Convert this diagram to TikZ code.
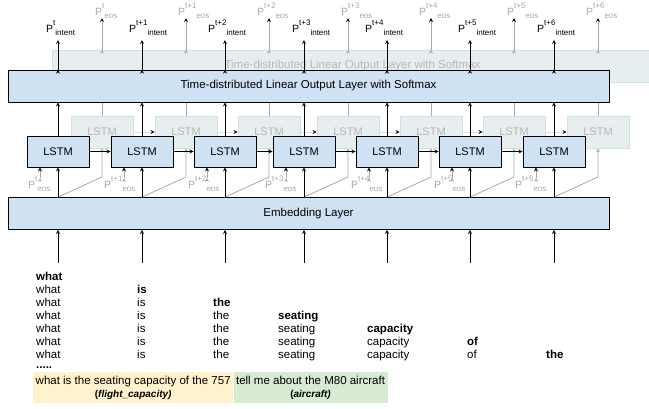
\documentclass[tikz,border=0pt]{standalone}
\usepackage{fontspec}
\setmainfont{Liberation Sans}
\usetikzlibrary{arrows,positioning}
\definecolor{layerblue}{HTML}{CFE2F3}
\definecolor{ghostfill}{HTML}{E6EEF0}
\definecolor{ghostline}{HTML}{D0E0E3}
\definecolor{ghosttext}{HTML}{B7B7B7}
\definecolor{eosgray}{HTML}{A8A8A8}
\definecolor{queryyellow}{HTML}{FFF2CC}
\definecolor{querygreen}{HTML}{D9EAD3}
\newcommand{\plab}[2]{P\raisebox{7pt}{\fontsize{8}{8}\selectfont #1}\raisebox{-3.5pt}{\fontsize{8}{8}\selectfont #2}}

\begin{document}
\begin{tikzpicture}[x=1pt,y=-1pt,
		font=\fontsize{11.5}{13}\selectfont,
		layer/.style={draw=black,fill=layerblue,line width=0.8pt,inner sep=0pt,
			minimum width=601pt,minimum height=32pt},
		ghostlayer/.style={draw=ghostline,fill=ghostfill,text=ghosttext,line width=0.8pt,
			inner sep=0pt,minimum width=601pt,minimum height=32pt},
		cell/.style={layer,minimum width=62pt,minimum height=31pt,font=\fontsize{11}{13}\selectfont},
		ghostcell/.style={ghostlayer,minimum width=62pt,minimum height=32pt,font=\fontsize{11}{13}\selectfont},
		plabel/.style={anchor=base west,inner sep=0pt,font=\fontsize{10.5}{12}\selectfont},
		word/.style={anchor=base west,inner sep=0pt},
		query/.style={align=center,inner xsep=2.5pt,inner ysep=0pt,minimum height=31pt},
		flow/.style={draw=black,line width=0.8pt,-stealth},
		eosflow/.style={draw=eosgray,line width=0.8pt},
		ghostflow/.style={draw=ghostline,line width=0.8pt,-stealth}]
	\useasboundingbox (0,0) rectangle (649,408);
	\clip (0,0) rectangle (649,408);
	
	% shifted copy of the network (eos branch)
	\node[ghostlayer] (gout) at (352.5,66) {Time-distributed Linear Output Layer with Softmax};
	\foreach \i/\cx in {1/58,2/142,3/225,4/304,5/387,6/470,7/554}
	\node[ghostcell] (glstm\i) at (\cx+44,132) {LSTM};
	\foreach \i [count=\j from 2] in {1,...,6}
	\path[ghostflow] (glstm\i) edge (glstm\j);
	
	% front network
	\node[layer] (emb) at (308.5,213.5) {Embedding Layer};
	\foreach \i/\cx in {1/58,2/142,3/225,4/304,5/387,6/470,7/554}
	{
		\node[cell] (lstm\i) at (\cx,151.5) {LSTM};
		\coordinate (src\i) at (\cx,263);
		\coordinate (ti\i) at (\cx,40);
		\coordinate (te\i) at (\cx+44,18);
		\coordinate (bend\i) at (\cx+44,177);
		\coordinate (fb\i) at (\cx-18,178);
	}
	
	% eos paths behind the output layer
	\foreach \i in {1,...,7}
	{
		\path[eosflow] (glstm\i) edge (glstm\i |- gout.south);
		\path[eosflow,-stealth] (glstm\i |- gout.north) edge (te\i);
		\draw[eosflow,-stealth] (lstm\i |- emb.north) -- (bend\i) -- (glstm\i.south);
		\path[eosflow,-stealth] (fb\i) edge (fb\i |- lstm\i.south);
	}
	
	\node[layer] (out) at (308.5,86) {Time-distributed Linear Output Layer with Softmax};
	
	\foreach \i [count=\j from 2] in {1,...,6}
	\path[flow] (lstm\i) edge (lstm\j);
	\foreach \i in {1,...,7}
	\path[flow]
	(src\i) edge (lstm\i |- emb.south)
	(lstm\i |- emb.north) edge (lstm\i)
	(lstm\i) edge (lstm\i |- out.south)
	(lstm\i |- out.north) edge (ti\i);
	
	% probability labels
	\foreach \i/\s/\lx/\tx/\ex in {1/t/46/95/28,2/t+1/129/178/104,3/t+2/208/257/188,
		4/t+3/292/341/265,5/t+4/365/419/351,6/t+5/458/507/434,7/t+6/537/586/515}
	{
		\node[plabel] (pint\i) at (\lx,32) {\plab{\s}{intent}};
		\node[plabel,text=eosgray] (peos\i) at (\tx,15) {\plab{\s}{eos}};
		\node[plabel,text=eosgray] (pfb\i) at (\ex,188) {\plab{\s}{eos}};
	}
	
	% input words, one more per step
	\foreach \w/\x [count=\k] in {what/36,is/137,the/213,seating/278,capacity/367,of/467,the/546}
	\foreach \r in {\k,...,7}
	\node[word] (word\r-\k) at (\x,267+13*\r) {\ifnum\r=\k\textbf{\w}\else\w\fi};
	\node[word] (dots) at (36,368) {\textbf{.....}};
	
	% example queries
	\node[query,fill=queryyellow,anchor=north west] (q1) at (33,372)
	{what is the seating capacity of the 757\\{\fontsize{10}{12}\selectfont\textbf{(\textit{flight\_capacity)}}}};
	\node[query,fill=querygreen,right=0pt of q1] (q2)
	{tell me about the M80 aircraft\\{\fontsize{10}{12}\selectfont\textbf{(\textit{aircraft)}}}};
\end{tikzpicture}
\end{document}
